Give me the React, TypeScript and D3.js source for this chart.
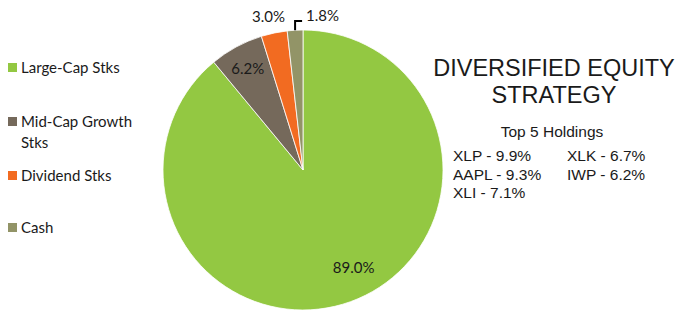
import { useEffect, useRef } from 'react';
import * as d3 from 'd3';

const categories = ['Large-Cap Stks', 'Mid-Cap Growth Stks', 'Dividend Stks', 'Cash'];
const shares = [89.0, 6.2, 3.0, 1.8];
const colors = ['#93C842', '#75695B', '#F26B21', '#929467'];
const holdingsLeft = ['XLP - 9.9%', 'AAPL - 9.3%', 'XLI - 7.1%'];
const holdingsRight = ['XLK - 6.7%', 'IWP - 6.2%'];

interface Slice {
  name: string;
  value: number;
  color: string;
}

const App = () => {
  const svgRef = useRef<SVGSVGElement>(null);

  useEffect(() => {
    if (!svgRef.current) return;
    const width = 677;
    const height = 312;
    const cx = 303;
    const cy = 170;
    const radius = 140;

    const data: Slice[] = categories.map((c, i) => ({ name: c, value: shares[i], color: colors[i] }));

    const svg = d3.select(svgRef.current);
    svg.selectAll('*').remove();
    svg.attr('width', width).attr('height', height).attr('viewBox', `0 0 ${width} ${height}`);

    const g = svg.append('g').attr('transform', `translate(${cx},${cy})`);

    const pie = d3.pie<Slice>().value((d) => d.value).sort(null);
    const arc = d3.arc<d3.PieArcDatum<Slice>>().innerRadius(0).outerRadius(radius);
    const labelArc = d3.arc<d3.PieArcDatum<Slice>>().innerRadius(114).outerRadius(114);
    const outerArc = d3.arc<d3.PieArcDatum<Slice>>().innerRadius(153).outerRadius(153);
    const edgeArc = d3.arc<d3.PieArcDatum<Slice>>().innerRadius(radius).outerRadius(radius);

    const arcs = pie(data);

    g.selectAll('path.slice')
      .data(arcs)
      .enter()
      .append('path')
      .attr('class', 'slice')
      .attr('d', arc)
      .attr('fill', (d) => d.data.color)
      .attr('stroke', '#fff')
      .attr('stroke-width', 0.8);

    const labelFont = 'Lato, "Open Sans", sans-serif';

    // inside labels for the two big slices
    arcs.slice(0, 2).forEach((d) => {
      const [x, y] = labelArc.centroid(d);
      g.append('text')
        .attr('x', d.index === 0 ? x + 12 : x - 1)
        .attr('y', d.index === 0 ? y - 8 : y)
        .attr('text-anchor', 'middle')
        .attr('dominant-baseline', 'middle')
        .style('font-family', labelFont)
        .style('font-size', '15px')
        .style('fill', '#1a1a1a')
        .text(`${d.data.value.toFixed(1)}%`);
    });

    // dividend: label just outside
    {
      const d = arcs[2];
      const [x, y] = outerArc.centroid(d);
      g.append('text')
        .attr('x', x - 3)
        .attr('y', y - 2)
        .attr('text-anchor', 'middle')
        .attr('dominant-baseline', 'middle')
        .style('font-family', labelFont)
        .style('font-size', '15px')
        .style('fill', '#1a1a1a')
        .text(`${d.data.value.toFixed(1)}%`);
    }

    // cash: leader line then label to the right
    {
      const d = arcs[3];
      const [ex, ey] = edgeArc.centroid(d);
      const elbowY = -cy + 21;
      g.append('path')
        .attr('d', `M${ex},${ey}V${elbowY}H${ex + 7}`)
        .attr('fill', 'none')
        .attr('stroke', '#000')
        .attr('stroke-width', 2);
      g.append('text')
        .attr('x', ex + 11)
        .attr('y', elbowY - 4)
        .attr('dominant-baseline', 'middle')
        .style('font-family', labelFont)
        .style('font-size', '15px')
        .style('fill', '#1a1a1a')
        .text(`${d.data.value.toFixed(1)}%`);
    }

    // legend
    const legendY = [68, 122, 176, 228];
    const legend = svg.append('g');
    data.forEach((d, i) => {
      const y = legendY[i];
      legend.append('rect')
        .attr('x', 8).attr('y', y - 5)
        .attr('width', 9).attr('height', 9)
        .attr('fill', d.color);
      const t = legend.append('text')
        .attr('x', 21).attr('y', y + 5)
        .style('font-family', labelFont)
        .style('font-size', '15px')
        .style('fill', '#1a1a1a');
      if (d.name === 'Mid-Cap Growth Stks') {
        t.append('tspan').attr('x', 21).text('Mid-Cap Growth');
        t.append('tspan').attr('x', 21).attr('dy', 21).text('Stks');
      } else {
        t.text(d.name);
      }
    });

    // title block
    const titleFont = '"Liberation Sans", Arial, sans-serif';
    const tx = 554;
    svg.append('text')
      .attr('x', tx).attr('y', 76)
      .attr('text-anchor', 'middle')
      .style('font-family', titleFont)
      .style('font-size', '23.5px')
      .style('fill', '#1a1a1a')
      .text('DIVERSIFIED EQUITY');
    svg.append('text')
      .attr('x', tx).attr('y', 103)
      .attr('text-anchor', 'middle')
      .style('font-family', titleFont)
      .style('font-size', '23.5px')
      .style('fill', '#1a1a1a')
      .text('STRATEGY');
    svg.append('text')
      .attr('x', 552).attr('y', 137)
      .attr('text-anchor', 'middle')
      .style('font-family', titleFont)
      .style('font-size', '15.5px')
      .style('fill', '#1a1a1a')
      .text('Top 5 Holdings');

    const rowY = [161, 179.5, 198];
    holdingsLeft.forEach((h, i) => {
      svg.append('text')
        .attr('x', 453).attr('y', rowY[i])
        .style('font-family', titleFont)
        .style('font-size', '15.5px')
        .style('fill', '#1a1a1a')
        .text(h);
    });
    holdingsRight.forEach((h, i) => {
      svg.append('text')
        .attr('x', 567).attr('y', rowY[i])
        .style('font-family', titleFont)
        .style('font-size', '15.5px')
        .style('fill', '#1a1a1a')
        .text(h);
    });
  }, []);

  return (
    <div style={{ position: 'absolute', left: 0, top: 0, width: 677, height: 312, background: '#fff' }}>
      <svg ref={svgRef} style={{ display: 'block' }} />
    </div>
  );
};

export default App;
